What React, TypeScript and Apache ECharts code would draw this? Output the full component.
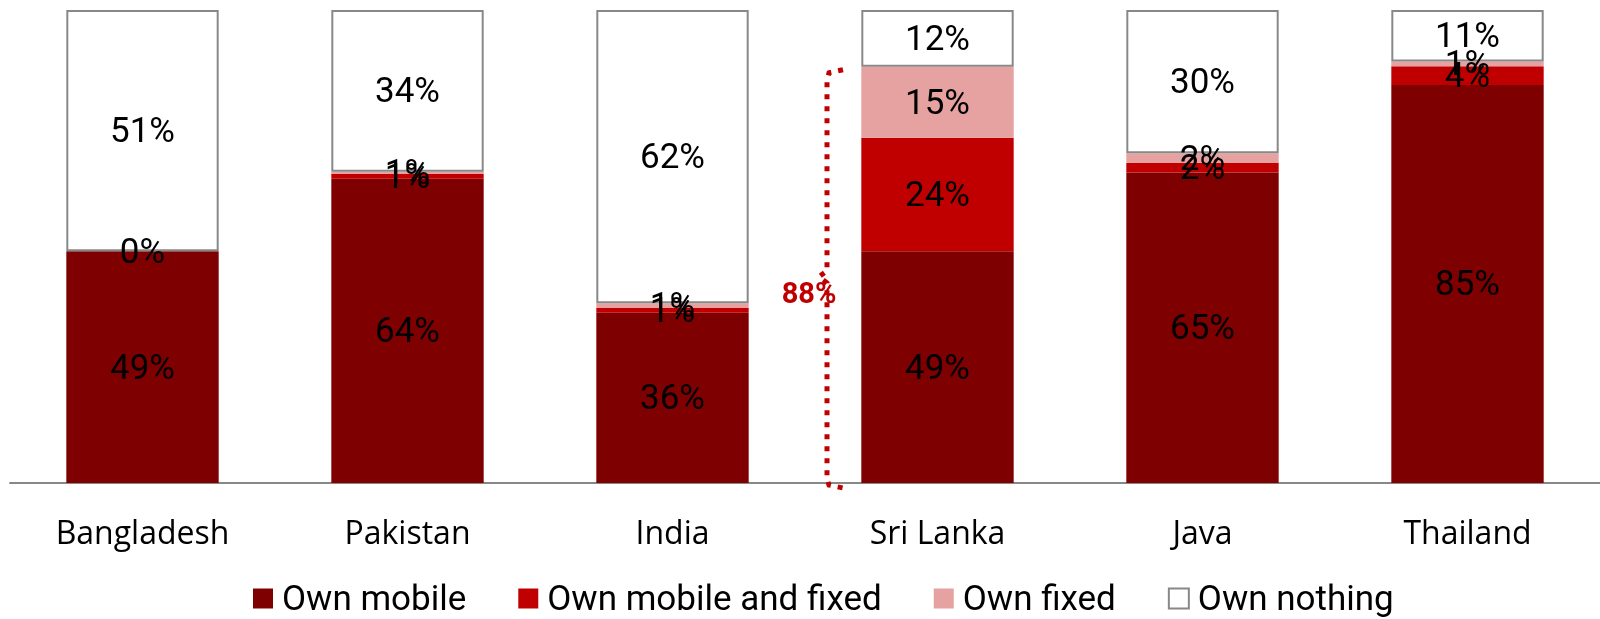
import React, { useEffect, useRef } from "react";
import * as echarts from "echarts";

const categories = ["Bangladesh", "Pakistan", "India", "Sri Lanka", "Java", "Thailand"];
const ownMobile = [49, 64, 36, 49, 65, 85];
const ownMobileFixed = [0, 1, 1, 24, 2, 4];
const ownFixed: (number | null)[] = [null, 0.5, 1, 15, 2, 1];
const ownNothing = [51, 34, 62, 12, 30, 11];
const bracketLabel = "88%";
const bracketValue = 88;

const seriesDefs = [
  { name: "Own mobile", values: ownMobile, color: "#7F0000" },
  { name: "Own mobile and fixed", values: ownMobileFixed, color: "#C00000" },
  { name: "Own fixed", values: ownFixed, color: "#E6A1A1" },
  { name: "Own nothing", values: ownNothing, color: "#FFFFFF" },
];

const LABEL_FONT = "Roboto, 'Liberation Sans', sans-serif";

export default function App() {
  const ref = useRef<HTMLDivElement>(null);
  useEffect(() => {
    if (!ref.current) return;
    const chart = echarts.init(ref.current, null, { renderer: "svg" });
    const totals = categories.map((_, i) =>
      seriesDefs.reduce((s, d) => s + (d.values[i] ?? 0), 0)
    );
    const series = seriesDefs.map((d) => ({
      name: d.name,
      type: "bar",
      stack: "total",
      barCategoryGap: "42.5%",
      data: d.values.map((v, i) =>
        v === null ? null : { value: (v / totals[i]) * 100, raw: v }
      ),
      itemStyle:
        d.name === "Own nothing"
          ? { color: "#FFFFFF", borderColor: "#888888", borderWidth: 2 }
          : { color: d.color },
      label: {
        show: true,
        position: "inside",
        color: "#000",
        fontFamily: LABEL_FONT,
        fontSize: 35,
        formatter: (p: any) => `${Math.round(p.data.raw)}%`,
      },
    }));
    chart.setOption({
      animation: false,
      grid: { left: 10, top: 10, width: 1606, bottom: 136 },
      legend: {
        top: 576,
        left: 248,
        itemWidth: 20,
        itemHeight: 20,
        itemGap: 52,
        icon: "rect",
        textStyle: { fontFamily: LABEL_FONT, fontSize: 35, color: "#000", padding: [0, 0, 0, 4] },
        data: seriesDefs.map((d) => d.name),
      },
      xAxis: {
        type: "category",
        data: categories,
        axisLine: { lineStyle: { color: "#888888", width: 2 } },
        axisTick: { show: false },
        axisLabel: { fontFamily: "'Open Sans', sans-serif", fontSize: 32, color: "#000", margin: 32 },
      },
      yAxis: { type: "value", min: 0, max: 100, show: false },
      series,
    });
    const xa = chart.convertToPixel({ xAxisIndex: 0 }, "India") as number;
    const xb = chart.convertToPixel({ xAxisIndex: 0 }, "Sri Lanka") as number;
    const mid = (xa + xb) / 2;
    const yTop = chart.convertToPixel({ yAxisIndex: 0 }, bracketValue) as number;
    const y0 = chart.convertToPixel({ yAxisIndex: 0 }, 0) as number;
    const lx = mid + 22;
    const ym = (yTop + y0) / 2 + 2;
    chart.setOption({
      graphic: [
        {
          type: "polyline",
          shape: {
            points: [
              [lx + 16, yTop + 3],
              [lx + 2, yTop + 6],
              [lx, yTop + 14],
              [lx, ym - 6],
              [lx - 8, ym],
              [lx, ym + 6],
              [lx, y0 - 4],
              [lx + 2, y0 + 2],
              [lx + 16, y0 + 5],
            ],
          },
          style: { stroke: "#C00000", lineWidth: 5, lineDash: [5, 7], fill: null },
          z: 10,
        },
        {
          type: "text",
          x: mid + 4,
          y: ym + 16,
          style: {
            text: bracketLabel,
            fill: "#C00000",
            font: `bold 29px ${LABEL_FONT}`,
            align: "center",
            verticalAlign: "middle",
          },
          z: 11,
        },
      ],
    });
    return () => chart.dispose();
  }, []);
  return (
    <div
      ref={ref}
      style={{ position: "fixed", left: 0, top: 0, width: 1600, height: 619 }}
    />
  );
}
